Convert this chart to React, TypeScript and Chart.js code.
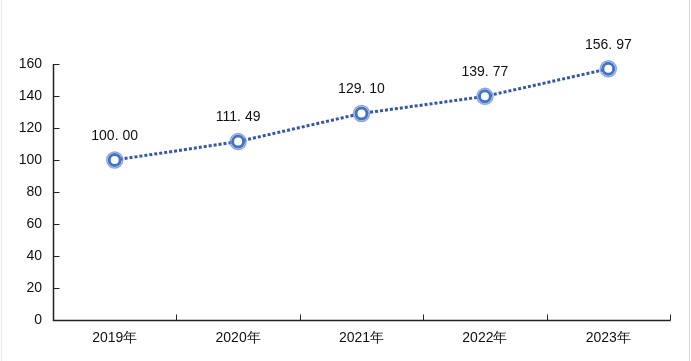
import React, { useEffect, useRef } from "react";
import { Chart, registerables } from "chart.js";

Chart.register(...registerables);

const categories = ["2019年", "2020年", "2021年", "2022年", "2023年"];
const values = [100.0, 111.49, 129.1, 139.77, 156.97];
const yTicks = [0, 20, 40, 60, 80, 100, 120, 140, 160];

const FONT = "'Liberation Sans', Arial, sans-serif";

const axesPlugin = {
  id: "customAxes",
  afterDatasetsDraw(chart: any) {
    const { ctx, chartArea, scales } = chart;
    const x = scales.x;
    const y = scales.y;
    ctx.save();
    ctx.strokeStyle = "#222";
    ctx.lineWidth = 1.5;
    ctx.beginPath();
    const left = Math.round(chartArea.left) + 0.5;
    const bottom = Math.round(chartArea.bottom) + 0.5;
    ctx.moveTo(left, y.getPixelForValue(160));
    ctx.lineTo(left, bottom);
    ctx.lineTo(Math.round(chartArea.right) + 0.5, bottom);
    ctx.stroke();
    ctx.lineWidth = 1;
    ctx.beginPath();
    for (const v of yTicks) {
      const py = Math.round(y.getPixelForValue(v)) + 0.5;
      ctx.moveTo(left, py);
      ctx.lineTo(left + 6, py);
    }
    const n = categories.length;
    const step = x.getPixelForValue(1) - x.getPixelForValue(0);
    for (let i = 0; i <= n; i++) {
      const px =
        Math.round(
          i < n ? x.getPixelForValue(i) - step / 2 : x.getPixelForValue(n - 1) + step / 2
        ) + 0.5;
      ctx.moveTo(px, bottom);
      ctx.lineTo(px, bottom - 6);
    }
    ctx.stroke();
    ctx.restore();
  },
};

const pointsPlugin = {
  id: "customPoints",
  afterDatasetsDraw(chart: any) {
    const { ctx } = chart;
    const meta = chart.getDatasetMeta(0);
    ctx.save();
    meta.data.forEach((pt: any, i: number) => {
      const px = pt.x;
      const py = pt.y;
      ctx.beginPath();
      ctx.arc(px, py, 8, 0, Math.PI * 2);
      ctx.strokeStyle = "rgba(110,145,215,0.8)";
      ctx.lineWidth = 1.5;
      ctx.stroke();
      ctx.beginPath();
      ctx.arc(px, py, 5.5, 0, Math.PI * 2);
      ctx.fillStyle = "#ffffff";
      ctx.fill();
      ctx.strokeStyle = "#4472C4";
      ctx.lineWidth = 3;
      ctx.stroke();
      const v = values[i];
      const [ip, dp] = v.toFixed(2).split(".");
      ctx.font = `14px ${FONT}`;
      ctx.fillStyle = "#111";
      ctx.textBaseline = "middle";
      const a = ip + ".";
      const wA = ctx.measureText(a).width;
      const gap = 4;
      const wB = ctx.measureText(dp).width;
      const total = wA + gap + wB;
      const sx = px - total / 2;
      const ly = py - 24;
      ctx.textAlign = "left";
      ctx.fillText(a, sx, ly);
      ctx.fillText(dp, sx + wA + gap, ly);
    });
    ctx.restore();
  },
};

export default function App() {
  const ref = useRef<HTMLCanvasElement | null>(null);
  useEffect(() => {
    if (!ref.current) return;
    const chart = new Chart(ref.current, {
      type: "line",
      data: {
        labels: categories,
        datasets: [
          {
            data: values,
            borderColor: "#3557A6",
            borderWidth: 3,
            borderDash: [3, 2],
            pointRadius: 0,
            fill: false,
            tension: 0,
          },
        ],
      },
      options: {
        responsive: false,
        animation: false,
        layout: { padding: { left: 0, right: 21, top: 64, bottom: 0 } },
        plugins: {
          legend: { display: false },
          tooltip: { enabled: false },
        },
        scales: {
          x: {
            offset: true,
            grid: { display: false, drawTicks: false },
            border: { display: false },
            ticks: {
              font: { family: FONT, size: 14 },
              color: "#111",
              padding: 10,
            },
            afterFit: (s: any) => {
              s.height = 41;
            },
          },
          y: {
            min: 0,
            max: 160,
            grid: { display: false, drawTicks: false },
            border: { display: false },
            ticks: {
              stepSize: 20,
              font: { family: FONT, size: 14 },
              color: "#111",
              padding: 11,
            },
            afterFit: (s: any) => {
              s.width = 53;
            },
          },
        },
      },
      plugins: [axesPlugin, pointsPlugin],
    });
    return () => chart.destroy();
  }, []);
  return (
    <div
      style={{
        position: "fixed",
        left: 0,
        top: 0,
        width: 691,
        height: 361,
        background: "#fff",
      }}
    >
      <canvas ref={ref} width={691} height={361} style={{ display: "block" }} />
      <div
        style={{
          position: "absolute",
          left: 1,
          top: 0,
          width: 1,
          height: 361,
          background: "#ececec",
        }}
      />
      <div
        style={{
          position: "absolute",
          left: 689,
          top: 0,
          width: 1,
          height: 361,
          background: "#d8d8d8",
        }}
      />
    </div>
  );
}
